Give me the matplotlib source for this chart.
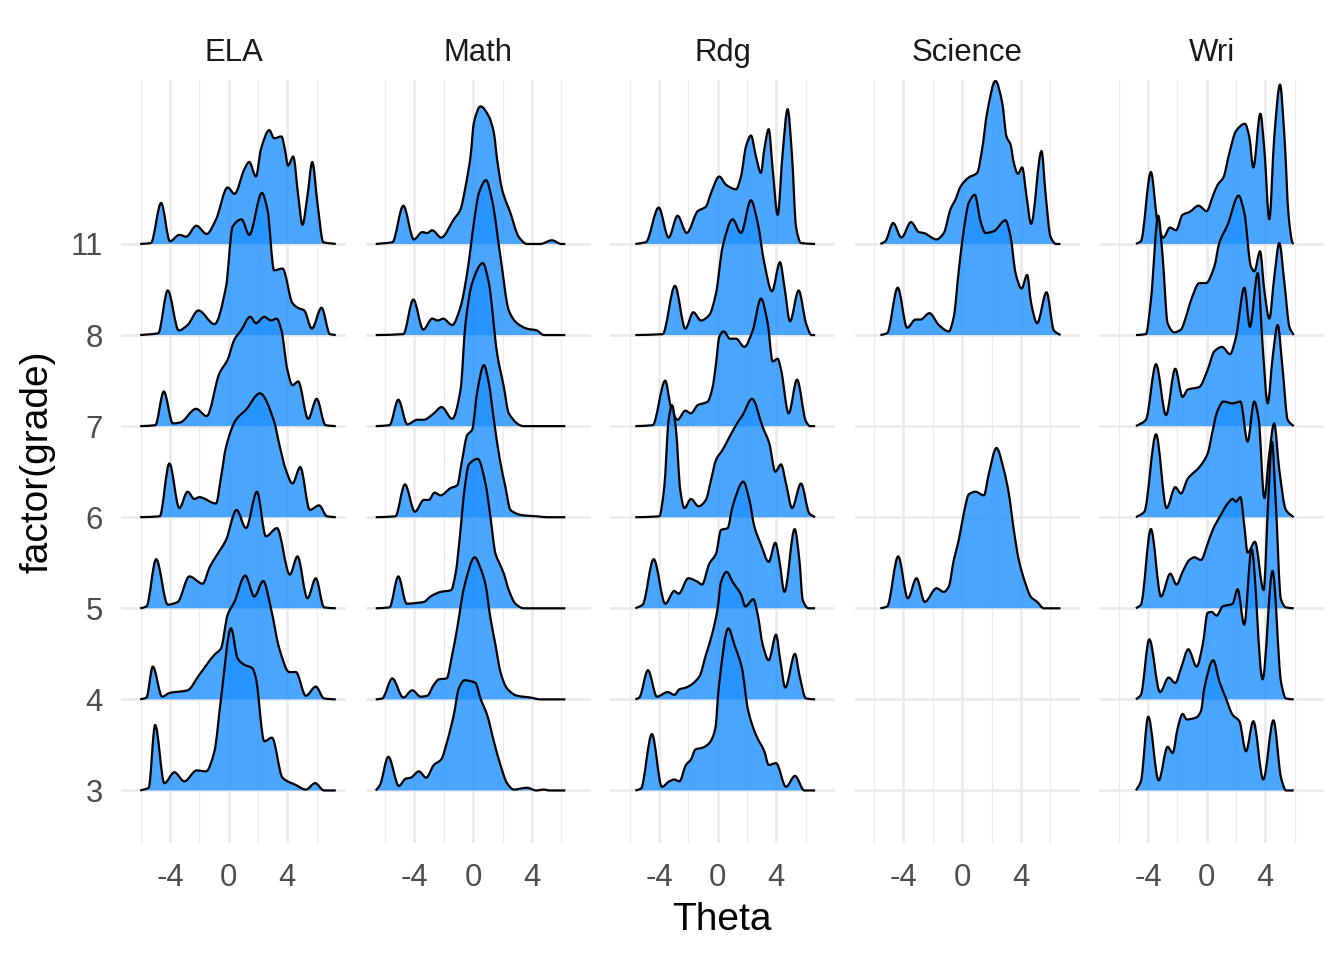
import numpy as np
import matplotlib
matplotlib.use("Agg")
import matplotlib.pyplot as plt
from matplotlib.path import Path
from matplotlib.patches import PathPatch

plt.rcParams['font.family'] = ['Liberation Sans', 'DejaVu Sans']
plt.rcParams['axes.unicode_minus'] = False

subjects = ["ELA", "Math", "Rdg", "Science", "Wri"]
grades = [3, 4, 5, 6, 7, 8, 11]
x_major = [-4, 0, 4]
x_major_labels = ["-4", "0", "4"]
x_minor = [-6, -2, 2, 6]

# ridge outlines: (Theta, scaled density in row units)
ela_11 = [(-6.03, 0), (-5.3, 0.01), (-4.6, 0.45), (-4.0, 0.03), (-3.36, 0.10), (-2.9, 0.08),
          (-2.2, 0.20), (-1.5, 0.11), (-0.86, 0.27), (-0.07, 0.62), (0.4, 0.55), (1.07, 0.82),
          (1.4, 0.90), (1.86, 0.74), (2.2, 1.04), (2.77, 1.25), (3.1, 1.16), (3.6, 1.18),
          (3.83, 1.04), (4.05, 0.86), (4.4, 0.96), (4.74, 0.53), (5.03, 0.21), (5.37, 0.53),
          (5.7, 0.90), (6.05, 0.45), (6.45, 0.02), (7.3, 0)]
ela_8 = [(-6.03, 0), (-4.8, 0.02), (-4.15, 0.49), (-3.4, 0.05), (-2.8, 0.11), (-2.06, 0.27),
         (-0.97, 0.12), (-0.18, 0.53), (0.27, 1.19), (0.88, 1.27), (1.4, 1.10), (2.27, 1.56),
         (2.65, 1.37), (3.1, 0.71), (3.67, 0.73), (4.35, 0.35), (4.7, 0.30), (5.15, 0.27),
         (5.67, 0.07), (6.33, 0.30), (6.9, 0.01), (7.3, 0)]
ela_7 = [(-6.03, 0), (-5.0, 0.01), (-4.42, 0.38), (-3.8, 0.03), (-3.3, 0.04), (-2.22, 0.19),
         (-1.5, 0.11), (-0.63, 0.58), (-0.07, 0.73), (0.39, 0.95), (0.84, 1.05), (1.47, 1.20),
         (1.86, 1.13), (2.43, 1.20), (2.88, 1.16), (3.27, 1.18), (3.6, 1.05), (4.0, 0.62),
         (4.35, 0.45), (4.74, 0.49), (5.42, 0.08), (6.0, 0.30), (6.6, 0.01), (7.3, 0)]
ela_6 = [(-6.03, 0), (-4.7, 0.01), (-4.04, 0.59), (-3.36, 0.10), (-2.8, 0.28), (-2.34, 0.20),
         (-2.0, 0.22), (-0.86, 0.15), (-0.52, 0.44), (-0.18, 0.77), (0.5, 1.07), (1.18, 1.18),
         (2.13, 1.36), (3.1, 1.05), (3.45, 0.80), (3.9, 0.52), (4.35, 0.37), (4.88, 0.55),
         (5.53, 0.08), (6.17, 0.13), (6.7, 0.01), (7.3, 0)]
ela_5 = [(-6.03, 0), (-5.6, 0.02), (-4.94, 0.54), (-4.15, 0.04), (-3.47, 0.07), (-2.68, 0.35),
         (-1.77, 0.27), (-1.3, 0.45), (-0.86, 0.57), (-0.18, 0.75), (0.54, 1.08), (1.18, 0.88),
         (1.93, 1.28), (2.54, 0.79), (3.29, 0.88), (4.17, 0.37), (4.69, 0.57), (5.37, 0.11),
         (5.94, 0.33), (6.5, 0.01), (7.3, 0)]
ela_4 = [(-6.03, 0), (-5.6, 0.02), (-5.17, 0.36), (-4.53, 0.03), (-4.04, 0.07), (-2.8, 0.10),
         (-2.0, 0.27), (-0.97, 0.49), (-0.52, 0.56), (-0.07, 0.93), (0.39, 1.07), (1.13, 1.36),
         (1.75, 1.13), (2.36, 1.30), (2.88, 1.0), (3.45, 0.56), (4.13, 0.30), (4.58, 0.30),
         (5.26, 0.04), (5.94, 0.14), (6.5, 0.01), (7.3, 0)]
ela_3 = [(-6.03, 0), (-5.45, 0.03), (-5.01, 0.72), (-4.38, 0.08), (-3.7, 0.20), (-3.02, 0.10),
         (-2.18, 0.22), (-1.54, 0.21), (-0.97, 0.43), (-0.52, 1.01), (0.16, 1.78), (0.61, 1.45),
         (1.07, 1.38), (1.63, 1.34), (1.86, 1.23), (2.43, 0.54), (2.95, 0.58), (3.67, 0.14),
         (4.58, 0.06), (5.26, 0.01), (5.9, 0.08), (6.5, 0.0), (7.3, 0)]

math_11 = [(-6.64, 0), (-5.5, 0.02), (-4.76, 0.42), (-4.04, 0.05), (-3.47, 0.13), (-3.13, 0.12),
           (-2.79, 0.15), (-2.18, 0.07), (-1.32, 0.27), (-0.86, 0.38), (-0.52, 0.63), (-0.18, 0.96),
           (0.05, 1.33), (0.5, 1.51), (1.07, 1.40), (1.41, 1.22), (1.63, 0.93), (1.97, 0.60),
           (2.54, 0.34), (3.1, 0.08), (3.67, 0.0), (4.58, 0.0), (5.37, 0.04), (6.0, 0.0), (6.28, 0)]
math_8 = [(-6.64, 0), (-4.76, 0.01), (-4.08, 0.39), (-3.4, 0.06), (-2.79, 0.18), (-2.4, 0.16),
          (-2.04, 0.18), (-1.43, 0.11), (-0.86, 0.31), (-0.41, 0.68), (0.05, 1.23), (0.39, 1.56),
          (0.88, 1.70), (1.29, 1.48), (1.86, 0.86), (2.43, 0.27), (2.99, 0.13), (3.67, 0.07),
          (4.35, 0.05), (4.81, 0.0), (6.28, 0)]
math_7 = [(-6.64, 0), (-5.7, 0.01), (-5.1, 0.29), (-4.49, 0.02), (-3.8, 0.07), (-3.36, 0.07),
          (-2.68, 0.14), (-2.15, 0.21), (-1.43, 0.08), (-0.86, 0.40), (-0.52, 1.13), (-0.07, 1.57),
          (0.66, 1.79), (1.07, 1.57), (1.63, 0.80), (2.09, 0.43), (2.43, 0.14), (3.45, 0.0), (6.28, 0)]
math_6 = [(-6.64, 0), (-5.3, 0.01), (-4.65, 0.36), (-3.97, 0.06), (-3.36, 0.19), (-3.02, 0.19),
          (-2.63, 0.27), (-2.22, 0.24), (-1.54, 0.32), (-1.09, 0.35), (-0.75, 0.63), (-0.41, 0.90),
          (-0.07, 0.96), (0.3, 1.40), (0.73, 1.67), (1.07, 1.47), (1.41, 1.07), (1.8, 0.65),
          (2.2, 0.33), (2.54, 0.08), (3.45, 0.02), (4.35, 0.01), (5.0, 0.0), (6.28, 0)]
math_5 = [(-6.64, 0), (-5.7, 0.01), (-5.1, 0.35), (-4.53, 0.05), (-3.81, 0.06), (-3.36, 0.07),
          (-2.9, 0.13), (-2.22, 0.18), (-1.5, 0.20), (-1.2, 0.38), (-0.86, 0.86), (-0.63, 1.25),
          (-0.29, 1.58), (0.32, 1.64), (0.84, 1.37), (1.18, 1.0), (1.52, 0.60), (1.75, 0.51),
          (2.09, 0.38), (2.43, 0.20), (2.88, 0.05), (3.45, 0.0), (6.28, 0)]
math_4 = [(-6.64, 0), (-6.2, 0.01), (-5.51, 0.23), (-4.76, 0.02), (-4.15, 0.10), (-3.58, 0.03),
          (-3.13, 0.04), (-2.68, 0.16), (-2.34, 0.22), (-1.81, 0.23), (-1.43, 0.49), (-1.09, 0.78),
          (-0.63, 1.22), (0.11, 1.56), (0.5, 1.44), (0.84, 1.26), (1.18, 0.89), (1.52, 0.60),
          (1.86, 0.30), (2.31, 0.12), (3.0, 0.04), (3.9, 0.02), (4.6, 0.0), (6.28, 0)]
math_3 = [(-6.64, 0), (-6.35, 0.06), (-5.78, 0.37), (-5.06, 0.05), (-4.6, 0.13), (-4.26, 0.14),
          (-3.7, 0.21), (-3.2, 0.14), (-2.68, 0.28), (-2.18, 0.34), (-1.77, 0.54), (-1.32, 0.83),
          (-0.98, 1.12), (-0.59, 1.21), (-0.18, 1.20), (0.16, 1.18), (0.5, 1.01), (0.95, 0.83),
          (1.41, 0.54), (1.86, 0.28), (2.31, 0.08), (2.77, 0.01), (3.67, 0.03), (4.3, 0.0),
          (4.81, 0.01), (5.2, 0.0), (6.28, 0)]

rdg_11 = [(-5.61, 0), (-4.89, 0.02), (-4.02, 0.40), (-3.34, 0.07), (-2.73, 0.31), (-2.11, 0.12),
          (-1.36, 0.36), (-0.8, 0.41), (-0.45, 0.56), (0.11, 0.74), (0.57, 0.65), (1.25, 0.60),
          (1.59, 0.74), (1.93, 1.07), (2.27, 1.19), (2.61, 0.96), (2.95, 0.78), (3.18, 1.04),
          (3.48, 1.26), (3.75, 0.82), (4.09, 0.32), (4.43, 1.0), (4.77, 1.48), (5.07, 0.96),
          (5.34, 0.19), (5.68, 0.01), (6.64, 0)]
rdg_8 = [(-5.61, 0), (-3.75, 0.01), (-2.91, 0.54), (-2.2, 0.07), (-1.66, 0.25), (-1.14, 0.16),
         (-0.57, 0.22), (-0.11, 0.46), (0.34, 0.97), (1.02, 1.27), (1.59, 1.12), (2.27, 1.48),
         (2.73, 1.23), (3.18, 0.79), (3.7, 0.48), (4.25, 0.80), (4.55, 0.53), (4.93, 0.15),
         (5.52, 0.49), (6.02, 0.13), (6.4, 0.0), (6.64, 0)]
rdg_7 = [(-5.61, 0), (-4.43, 0.01), (-3.57, 0.50), (-3.2, 0.22), (-2.73, 0.07), (-2.2, 0.17),
         (-1.82, 0.14), (-1.36, 0.23), (-0.68, 0.27), (-0.34, 0.43), (-0.11, 0.69), (0.11, 0.98),
         (0.41, 1.04), (0.84, 0.96), (1.25, 0.96), (1.82, 0.87), (2.39, 1.05), (2.95, 1.40),
         (3.41, 1.13), (3.75, 0.71), (4.09, 0.74), (4.32, 0.62), (4.84, 0.14), (5.41, 0.51),
         (6.02, 0.05), (6.3, 0.0), (6.64, 0)]
rdg_6 = [(-5.61, 0), (-3.98, 0.01), (-3.64, 0.33), (-3.34, 1.07), (-3.11, 1.23), (-2.84, 0.96),
         (-2.55, 0.30), (-2.27, 0.10), (-1.82, 0.20), (-1.3, 0.12), (-0.8, 0.19), (-0.45, 0.41),
         (-0.11, 0.63), (0.34, 0.74), (0.8, 0.88), (1.36, 1.04), (1.7, 1.12), (2.34, 1.30),
         (3.07, 0.99), (3.52, 0.81), (3.93, 0.50), (4.32, 0.58), (4.66, 0.37), (5.07, 0.10),
         (5.68, 0.37), (6.25, 0.04), (6.64, 0)]
rdg_5 = [(-5.61, 0), (-5.11, 0.04), (-4.36, 0.54), (-3.57, 0.05), (-2.95, 0.19), (-2.66, 0.16),
         (-2.0, 0.33), (-1.36, 0.29), (-1.07, 0.26), (-0.57, 0.49), (-0.11, 0.60), (0.23, 0.86),
         (0.68, 0.88), (1.02, 1.12), (1.75, 1.39), (2.16, 1.19), (2.5, 0.90), (2.95, 0.70),
         (3.48, 0.51), (3.93, 0.72), (4.2, 0.53), (4.55, 0.18), (5.25, 0.87), (5.57, 0.53),
         (5.8, 0.09), (6.2, 0.0), (6.64, 0)]
rdg_4 = [(-5.61, 0), (-5.34, 0.02), (-4.75, 0.32), (-4.14, 0.03), (-3.41, 0.08), (-2.95, 0.05),
         (-2.61, 0.11), (-2.16, 0.13), (-1.25, 0.25), (-0.8, 0.49), (-0.34, 0.74), (0.0, 1.0),
         (0.23, 1.29), (0.61, 1.40), (1.02, 1.29), (1.59, 1.15), (1.89, 1.02), (2.43, 1.10),
         (2.73, 0.93), (3.07, 0.60), (3.48, 0.43), (3.98, 0.71), (4.25, 0.45), (4.61, 0.13),
         (5.27, 0.50), (5.57, 0.27), (6.02, 0.01), (6.64, 0)]
rdg_3 = [(-5.61, 0), (-5.23, 0.02), (-4.48, 0.62), (-3.8, 0.04), (-3.3, 0.10), (-2.95, 0.12),
         (-2.61, 0.10), (-2.16, 0.28), (-1.82, 0.34), (-1.52, 0.45), (-1.02, 0.47), (-0.57, 0.52),
         (-0.16, 0.68), (0.07, 1.12), (0.73, 1.78), (1.14, 1.60), (1.66, 1.34), (2.05, 0.90),
         (2.61, 0.61), (3.18, 0.43), (3.48, 0.28), (3.98, 0.30), (4.66, 0.04), (5.27, 0.16),
         (5.91, 0.0), (6.64, 0)]

sci_11 = [(-5.57, 0), (-5.23, 0.03), (-4.7, 0.23), (-4.14, 0.07), (-3.48, 0.24), (-2.95, 0.13),
          (-2.61, 0.12), (-1.75, 0.05), (-1.25, 0.12), (-0.8, 0.38), (-0.45, 0.49), (-0.11, 0.63),
          (0.45, 0.73), (1.02, 0.78), (1.36, 1.04), (1.7, 1.44), (2.27, 1.79), (2.73, 1.55),
          (3.02, 1.18), (3.3, 1.09), (3.52, 0.89), (3.8, 0.77), (4.09, 0.84), (4.39, 0.52),
          (4.7, 0.22), (5.41, 1.02), (5.68, 0.56), (6.02, 0.08), (6.4, 0.0), (6.70, 0)]
sci_8 = [(-5.57, 0), (-5.11, 0.02), (-4.39, 0.52), (-3.75, 0.08), (-3.18, 0.17), (-2.84, 0.17),
         (-2.23, 0.24), (-1.59, 0.11), (-0.91, 0.04), (-0.57, 0.20), (-0.23, 0.71), (0.11, 1.15),
         (0.45, 1.45), (0.86, 1.54), (1.25, 1.25), (1.59, 1.12), (2.16, 1.14), (2.95, 1.26),
         (3.3, 1.08), (3.64, 0.68), (4.05, 0.51), (4.43, 0.66), (4.7, 0.35), (5.11, 0.13),
         (5.75, 0.47), (6.25, 0.05), (6.70, 0)]
sci_5 = [(-5.57, 0), (-5.11, 0.02), (-4.36, 0.57), (-3.7, 0.11), (-3.11, 0.33), (-2.55, 0.07),
         (-1.75, 0.22), (-1.25, 0.18), (-0.91, 0.24), (-0.57, 0.53), (-0.23, 0.75), (0.11, 1.04),
         (0.45, 1.25), (0.91, 1.28), (1.48, 1.24), (1.82, 1.48), (2.34, 1.76), (2.84, 1.52),
         (3.18, 1.26), (3.52, 0.86), (3.86, 0.53), (4.32, 0.27), (4.66, 0.13), (5.11, 0.07),
         (5.57, 0.0), (6.70, 0)]

wri_11 = [(-4.82, 0), (-4.48, 0.03), (-3.8, 0.79), (-3.34, 0.23), (-2.95, 0.07), (-2.5, 0.18),
          (-2.09, 0.15), (-1.64, 0.32), (-1.18, 0.35), (-0.55, 0.42), (0.0, 0.36), (0.41, 0.52),
          (0.75, 0.65), (1.14, 0.73), (1.55, 1.0), (2.0, 1.24), (2.61, 1.32), (2.9, 1.18),
          (3.18, 0.84), (3.66, 1.43), (3.93, 1.04), (4.27, 0.27), (4.61, 1.18), (5.0, 1.75),
          (5.3, 1.18), (5.59, 0.30), (5.86, 0.01), (5.93, 0)]
wri_8 = [(-4.82, 0), (-4.14, 0.01), (-3.8, 0.38), (-3.3, 1.31), (-3.0, 0.86), (-2.66, 0.13),
         (-2.2, 0.03), (-1.75, 0.06), (-1.41, 0.20), (-1.07, 0.38), (-0.5, 0.57), (-0.05, 0.57),
         (0.52, 0.75), (0.86, 1.01), (1.43, 1.21), (2.18, 1.53), (2.57, 1.34), (3.02, 0.75),
         (3.25, 0.70), (3.64, 0.92), (3.93, 0.49), (4.27, 0.18), (4.61, 0.64), (4.95, 1.01),
         (5.3, 0.57), (5.64, 0.09), (5.93, 0)]
wri_7 = [(-4.82, 0), (-4.14, 0.07), (-3.45, 0.68), (-2.77, 0.12), (-2.14, 0.63), (-1.64, 0.32),
         (-1.3, 0.40), (-0.5, 0.43), (0.07, 0.62), (0.52, 0.82), (1.05, 0.87), (1.59, 0.79),
         (2.0, 0.98), (2.57, 1.52), (2.95, 1.09), (3.48, 1.68), (3.82, 0.87), (4.16, 0.25),
         (4.5, 0.76), (4.84, 1.11), (5.18, 0.62), (5.52, 0.07), (5.93, 0)]
wri_6 = [(-4.82, 0), (-4.25, 0.06), (-3.45, 0.91), (-2.73, 0.10), (-2.14, 0.33), (-1.75, 0.26),
         (-1.3, 0.42), (-0.5, 0.55), (0.07, 0.70), (0.41, 0.95), (0.7, 1.15), (1.14, 1.27),
         (1.77, 1.25), (2.3, 1.27), (2.79, 0.83), (3.24, 1.27), (3.55, 1.07), (3.93, 0.21),
         (4.27, 0.70), (4.6, 1.03), (4.95, 0.52), (5.4, 0.08), (5.93, 0)]
wri_5 = [(-4.82, 0), (-4.48, 0.04), (-3.8, 0.87), (-3.11, 0.13), (-2.48, 0.38), (-2.05, 0.26),
         (-1.64, 0.40), (-1.18, 0.53), (-0.84, 0.56), (-0.39, 0.53), (0.07, 0.71), (0.41, 0.86),
         (0.98, 1.03), (1.43, 1.15), (1.77, 1.20), (2.0, 1.17), (2.3, 1.22), (2.57, 0.90),
         (2.79, 0.61), (3.29, 0.73), (3.88, 0.20), (4.2, 1.2), (4.45, 1.83), (4.7, 1.2),
         (5.06, 0.1), (5.4, 0.01), (5.93, 0)]
wri_4 = [(-4.82, 0), (-4.48, 0.05), (-3.91, 0.66), (-3.18, 0.08), (-2.59, 0.24), (-2.14, 0.18),
         (-1.75, 0.34), (-1.25, 0.55), (-0.68, 0.36), (-0.27, 0.60), (0.07, 0.95), (0.34, 0.96),
         (0.68, 0.92), (1.09, 1.02), (1.77, 1.05), (2.11, 1.21), (2.56, 0.82), (3.06, 1.65),
         (3.81, 0.22), (4.49, 1.41), (5.07, 0.19), (5.4, 0.01), (5.93, 0)]
wri_3 = [(-4.82, 0), (-4.48, 0.10), (-3.98, 0.81), (-3.27, 0.11), (-2.66, 0.48), (-2.32, 0.41),
         (-1.98, 0.68), (-1.64, 0.84), (-1.36, 0.78), (-0.73, 0.80), (-0.39, 0.87), (-0.16, 1.12),
         (0.45, 1.43), (0.86, 1.20), (1.27, 1.03), (1.77, 0.83), (2.23, 0.76), (2.68, 0.43),
         (3.18, 0.76), (3.86, 0.12), (4.55, 0.77), (5.07, 0.14), (5.41, 0.0), (5.93, 0)]

ridges = {
    "ELA": {3: ela_3, 4: ela_4, 5: ela_5, 6: ela_6, 7: ela_7, 8: ela_8, 11: ela_11},
    "Math": {3: math_3, 4: math_4, 5: math_5, 6: math_6, 7: math_7, 8: math_8, 11: math_11},
    "Rdg": {3: rdg_3, 4: rdg_4, 5: rdg_5, 6: rdg_6, 7: rdg_7, 8: rdg_8, 11: rdg_11},
    "Science": {5: sci_5, 8: sci_8, 11: sci_11},
    "Wri": {3: wri_3, 4: wri_4, 5: wri_5, 6: wri_6, 7: wri_7, 8: wri_8, 11: wri_11},
}


def pchip_slopes(x, y):
    h = np.diff(x)
    d = np.diff(y) / h
    m = np.zeros_like(y)
    m[0], m[-1] = d[0], d[-1]
    for k in range(1, len(x) - 1):
        if d[k - 1] * d[k] > 0:
            w1 = 2 * h[k] + h[k - 1]
            w2 = h[k] + 2 * h[k - 1]
            m[k] = (w1 + w2) / (w1 / d[k - 1] + w2 / d[k])
    return m


def ridge_curve(points, base):
    x = np.array([p[0] for p in points], float)
    y = np.array([p[1] for p in points], float) + base
    m = pchip_slopes(x, y)
    verts = [(x[0], y[0])]
    codes = [Path.MOVETO]
    for k in range(len(x) - 1):
        h = x[k + 1] - x[k]
        verts += [(x[k] + h / 3, y[k] + m[k] * h / 3),
                  (x[k + 1] - h / 3, y[k + 1] - m[k + 1] * h / 3),
                  (x[k + 1], y[k + 1])]
        codes += [Path.CURVE4] * 3
    return verts, codes


all_x = [p[0] for s in ridges.values() for r in s.values() for p in r]
span = max(all_x) - min(all_x)
xlim = (min(all_x) - 0.05 * span, max(all_x) + 0.05 * span)

W, H = 1344, 960
fig = plt.figure(figsize=(W / 100, H / 100), dpi=100)
grid_col = '#EBEBEB'

for i, subj in enumerate(subjects):
    left = 121 + 244.5 * i
    ax = fig.add_axes([left / W, 1 - 843.3 / H, 225 / W, 763.3 / H])
    ax.set_xlim(*xlim)
    ax.set_ylim(0.42, 8.80)
    for sp in ax.spines.values():
        sp.set_visible(False)
    ax.set_xticks(x_major)
    ax.set_xticklabels(x_major_labels)
    ax.set_xticks(x_minor, minor=True)
    ax.set_yticks(range(1, len(grades) + 1))
    if i == 0:
        ax.set_yticklabels([str(g) for g in grades])
    else:
        ax.set_yticklabels([])
    ax.tick_params(axis='both', which='both', length=0, labelsize=22.4, labelcolor='#4D4D4D')
    ax.tick_params(axis='x', pad=14)
    ax.tick_params(axis='y', pad=13)
    ax.grid(which='major', color=grid_col, lw=2.0, zorder=0)
    ax.grid(which='minor', axis='x', color=grid_col, lw=1.0, zorder=0)
    ax.set_axisbelow(True)

    for gi, g in enumerate(grades):
        if g not in ridges[subj]:
            continue
        base = gi + 1
        verts, codes = ridge_curve(ridges[subj][g], base)
        fverts = verts + [(verts[-1][0], base), (verts[0][0], base), (verts[0][0], base)]
        fcodes = codes + [Path.LINETO, Path.LINETO, Path.CLOSEPOLY]
        z = 10 + 2 * (len(grades) - gi)
        ax.add_patch(PathPatch(Path(fverts, fcodes), facecolor='#1E90FF', alpha=0.8,
                               edgecolor='none', zorder=z))
        ax.add_patch(PathPatch(Path(verts, codes), facecolor='none', edgecolor='black',
                               lw=1.6, zorder=z + 1, capstyle='butt', joinstyle='round'))

    ax.text(0.5, 1 + (80 - 53) / 763.3, subj, transform=ax.transAxes,
            ha='center', va='center', fontsize=22.4, color='#1A1A1A')

fig.text(722 / W, 1 - 920 / H, "Theta", ha='center', va='center', fontsize=28, color='black')
fig.text(38 / W, 1 - 462 / H, "factor(grade)", ha='center', va='center', fontsize=28,
         color='black', rotation=90)

fig.savefig("out.png", dpi=100)
